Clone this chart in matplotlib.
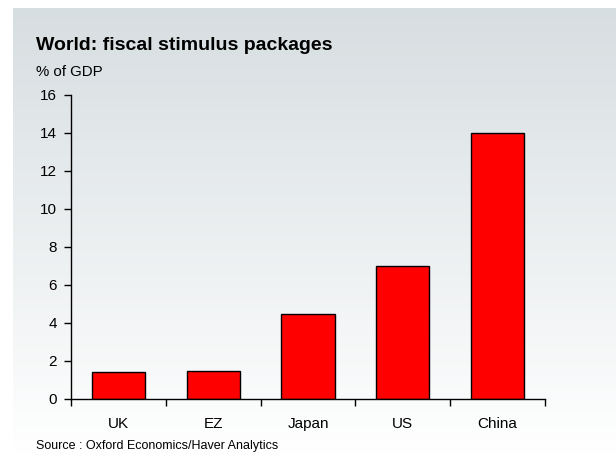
import matplotlib
matplotlib.use("Agg")
import matplotlib.pyplot as plt
import numpy as np

# chart data
countries = ["UK", "EZ", "Japan", "US", "China"]
stimulus = [1.4, 1.5, 4.5, 7.0, 14.0]
yTicks = [0, 2, 4, 6, 8, 10, 12, 14, 16]

plt.rcParams["font.family"] = ["Liberation Sans", "DejaVu Sans"]

W, H = 616, 454
fig = plt.figure(figsize=(W / 100, H / 100), dpi=100)

# background panel with vertical gradient
bg = fig.add_axes([13 / W, 0, 1 - 13 / W, 1 - 8 / H], zorder=-10)
top = np.array([0.843, 0.871, 0.882])
bottom = np.array([1.0, 1.0, 1.0])
t = np.linspace(0, 1, 256)[:, None]
grad = top * (1 - t) + bottom * t
grad = np.repeat(grad[:, None, :], 2, axis=1)
bg.imshow(grad, aspect="auto", extent=[0, 1, 0, 1])
bg.axis("off")

# main axes
ax = fig.add_axes([71 / W, 1 - 399 / H, (545 - 71) / W, (399 - 95) / H])
ax.patch.set_alpha(0)
x = np.arange(len(countries))
ax.bar(x, stimulus, width=0.56, color="#ff0000", edgecolor="black", linewidth=1)

ax.set_xlim(-0.5, len(countries) - 0.5)
ax.set_ylim(0, 16)
ax.set_yticks(yTicks)
ax.set_yticklabels([str(v) for v in yTicks], fontsize=11)

# category labels centred, ticks at boundaries
ax.set_xticks(np.arange(len(countries) + 1) - 0.5)
ax.set_xticklabels([])
ax.set_xticks(x, minor=True)
ax.set_xticklabels(countries, minor=True, fontsize=11)
ax.tick_params(axis="x", which="minor", length=0, pad=13)
ax.tick_params(axis="x", which="major", length=5, width=1, direction="out")
ax.tick_params(axis="y", length=5, width=1, direction="out", pad=5)

for s in ["top", "right"]:
    ax.spines[s].set_visible(False)
for s in ["left", "bottom"]:
    ax.spines[s].set_linewidth(1)

fig.text(36 / W, 1 - 45 / H, "World: fiscal stimulus packages", fontsize=14,
         fontweight="bold", va="center", ha="left")
fig.text(36 / W, 1 - 72 / H, "% of GDP", fontsize=10.8, va="center", ha="left")
fig.text(36 / W, 1 - 446 / H, "Source : Oxford Economics/Haver Analytics",
         fontsize=9, va="center", ha="left")

fig.savefig("out.png", dpi=100)
